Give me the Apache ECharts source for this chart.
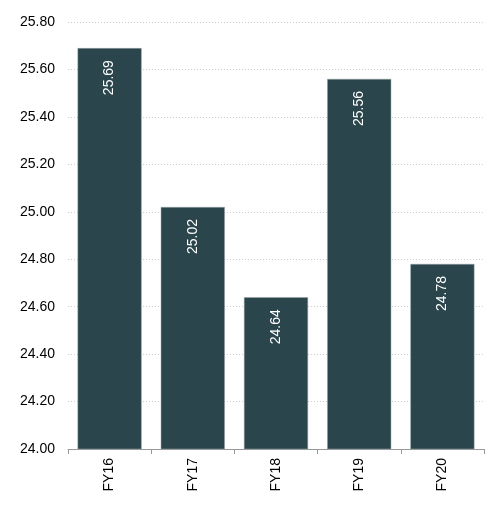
<!DOCTYPE html>
<html>
<head>
<meta charset="utf-8">
<script src="https://cdn.jsdelivr.net/npm/echarts@6/dist/echarts.min.js"></script>
<style>
  html, body { margin: 0; padding: 0; background: #fff; }
  #chart { width: 504px; height: 510px; }
</style>
</head>
<body>
<div id="chart"></div>
<script>
// data
var years = ["FY16", "FY17", "FY18", "FY19", "FY20"];
var values = [25.69, 25.02, 24.64, 25.56, 24.78];

var chart = echarts.init(document.getElementById("chart"));
var font = "Liberation Sans, Arial, sans-serif";

var option = {
    animation: false,
    grid: { left: 68, right: 20, top: 22, bottom: 61 },
    xAxis: {
        type: "category",
        data: years,
        axisLine: { lineStyle: { color: "#999", width: 1 } },
        axisTick: { show: true, length: 5, lineStyle: { color: "#999" } },
        axisLabel: { rotate: 90, margin: 9, color: "#000", fontSize: 14, fontFamily: font }
    },
    yAxis: {
        type: "value",
        min: 24,
        max: 25.8,
        interval: 0.2,
        axisLine: { show: false },
        axisTick: { show: false },
        axisLabel: {
            margin: 13,
            color: "#000",
            fontSize: 14,
            fontFamily: font,
            formatter: function (v) { return v.toFixed(2); }
        },
        splitLine: { lineStyle: { color: "#ccc", type: [1, 2], width: 1 } }
    },
    series: [{
        type: "bar",
        data: values,
        barWidth: "77%",
        itemStyle: { color: "#2a454c", borderColor: "#9aa6a8", borderWidth: 0.5 },
        label: {
            show: true,
            position: "insideTop",
            rotate: 90,
            align: "right",
            verticalAlign: "middle",
            distance: 12,
            color: "#fff",
            fontSize: 14,
            fontFamily: font,
            formatter: function (p) { return p.value.toFixed(2); }
        }
    }]
};
chart.setOption(option);
</script>
</body>
</html>
